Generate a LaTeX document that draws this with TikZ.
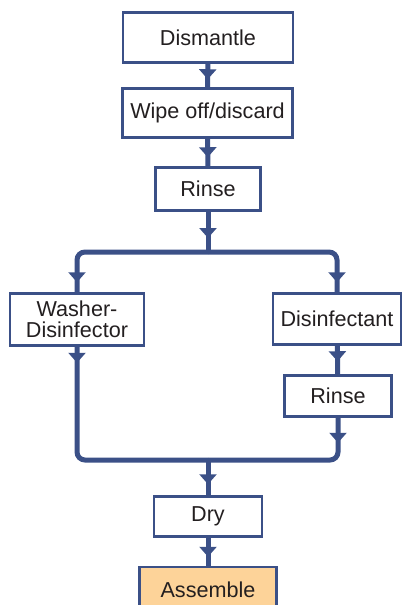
\documentclass[tikz,border=0pt]{standalone}
\usepackage{fontspec}
\setmainfont{Liberation Sans}
\usetikzlibrary{arrows.meta,decorations.markings}
\definecolor{flowblue}{RGB}{59,80,135}
\definecolor{flowtext}{RGB}{35,31,32}
\definecolor{flowfill}{RGB}{253,211,153}
\tikzset{
  stepbox/.style={draw=flowblue,line width=1.25pt,fill=white,text=flowtext,align=center,
    font=\fontsize{10.8}{10.5}\selectfont,inner sep=0pt},
  flowline/.style={draw=flowblue,line width=2.5pt,rounded corners=4pt},
  tipend/.style={postaction={decorate},decoration={markings,
    mark=at position -#1 with {\arrow[flowblue]{Triangle[width=8.5pt,length=5pt]}}}},
  tipstart/.style={postaction={decorate},decoration={markings,
    mark=at position #1 with {\arrow[flowblue]{Triangle[width=8.5pt,length=5pt]}}}}
}
\begin{document}
\begin{tikzpicture}[x=0.5pt,y=-0.5pt]
\useasboundingbox (0,0) rectangle (404,605);
% boxes
\node[stepbox,minimum width=85pt,minimum height=25pt] (dismantle) at (208,37.5) {Dismantle};
\node[stepbox,minimum width=85pt,minimum height=24.5pt] (wipe) at (207.5,113) {Wipe off/discard};
\node[stepbox,minimum width=52.5pt,minimum height=21.5pt] (rinse) at (208,189) {Rinse};
\node[stepbox,minimum width=67pt,minimum height=26pt] (washer) at (77,319.5) {Washer-\\Disinfector};
\node[stepbox,minimum width=64pt,minimum height=25.5pt] (disinf) at (337,319) {Disinfectant};
\node[stepbox,minimum width=53.5pt,minimum height=20.5pt] (rinsetwo) at (338,396) {Rinse};
\node[stepbox,minimum width=54pt,minimum height=20pt] (dry) at (208,516.5) {Dry};
\node[stepbox,fill=flowfill,minimum width=68.5pt,minimum height=23pt] (assemble) at (208,590) {Assemble};
\coordinate (split) at (208,252);
\coordinate (merge) at (208,460);
% connectors
\draw[flowline,tipend=4pt] (dismantle) -- (wipe);
\draw[flowline,tipend=4.5pt] (wipe) -- (rinse);
\draw[flowline,tipend=7pt] (rinse) -- (split);
\draw[flowline,tipend=5pt] (split) -| (washer.north);
\draw[flowline,tipend=5pt] (split) -| (disinf.north);
\draw[flowline,tipend=6.5pt] (disinf) -- (rinsetwo);
\draw[flowline,tipstart=8pt] (washer.south) |- (merge);
\draw[flowline,tipstart=12.5pt] (rinsetwo.south) |- (merge);
\draw[flowline,tipend=5.5pt] (merge) -- (dry);
\draw[flowline,tipend=4.5pt] (dry) -- (assemble);
\end{tikzpicture}
\end{document}
